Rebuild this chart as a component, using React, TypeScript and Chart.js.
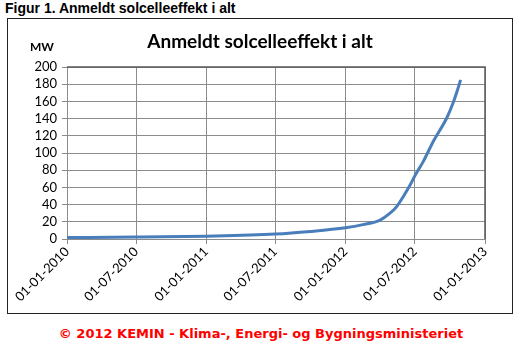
import React, { useEffect, useRef } from "react";
import { Chart, registerables } from "chart.js";

Chart.register(...registerables);

const pointDates = [
  "2010-01-01", "2010-07-01", "2011-01-01", "2011-07-01", "2011-10-01",
  "2012-01-01", "2012-02-16", "2012-04-01", "2012-04-27", "2012-05-15",
  "2012-06-01", "2012-06-19", "2012-07-03", "2012-07-23", "2012-08-19",
  "2012-09-23", "2012-10-10", "2012-10-20", "2012-10-29",
];
const pointValues = [1.7, 2.2, 3.3, 5.7, 8.7, 13, 16.7, 22, 30, 38, 49.5, 63, 75, 90, 114, 141, 159, 172, 185];
const tickDates = ["2010-01-01", "2010-07-01", "2011-01-01", "2011-07-01", "2012-01-01", "2012-07-01", "2013-01-01"];
const tickLabels = ["01-01-2010", "01-07-2010", "01-01-2011", "01-07-2011", "01-01-2012", "01-07-2012", "01-01-2013"];
const yTicks = [0, 20, 40, 60, 80, 100, 120, 140, 160, 180, 200];

const ORIGIN = Date.UTC(2010, 0, 1);
const toDay = (s: string) => (Date.parse(s + "T00:00:00Z") - ORIGIN) / 86400000;

const CW = 504;
const CH = 294;

const outline = {
  id: "outline",
  afterDatasetsDraw(chart: any) {
    const { ctx, chartArea } = chart;
    ctx.save();
    ctx.strokeStyle = "#5a5a5a";
    ctx.lineWidth = 1.5;
    ctx.beginPath();
    ctx.moveTo(chartArea.left, chartArea.top);
    ctx.lineTo(chartArea.right, chartArea.top);
    ctx.lineTo(chartArea.right, chartArea.bottom);
    ctx.stroke();
    ctx.restore();
  },
};

function ChartBox() {
  const ref = useRef<HTMLCanvasElement | null>(null);
  useEffect(() => {
    if (!ref.current) return;
    const chart = new Chart(ref.current, {
      type: "line",
      data: {
        datasets: [
          {
            data: pointDates.map((d, i) => ({ x: toDay(d), y: pointValues[i] })),
            borderColor: "#4a7ebb",
            borderWidth: 3,
            pointRadius: 0,
            cubicInterpolationMode: "monotone",
            fill: false,
          },
        ],
      },
      options: {
        responsive: false,
        animation: false,
        layout: { padding: { top: 48, right: 27, left: 0, bottom: 0 } },
        plugins: { legend: { display: false }, tooltip: { enabled: false }, title: { display: false } },
        scales: {
          x: {
            type: "linear",
            min: toDay(tickDates[0]),
            max: toDay(tickDates[tickDates.length - 1]),
            afterBuildTicks: (scale: any) => {
              scale.ticks = tickDates.map((d) => ({ value: toDay(d) }));
            },
            afterFit: (scale: any) => {
              scale.height = 74;
            },
            grid: { color: "#8c8c8c", tickLength: 5, lineWidth: 1 },
            border: { color: "#8c8c8c" },
            ticks: {
              autoSkip: false,
              minRotation: 45,
              maxRotation: 45,
              padding: 0,
              color: "#000",
              font: { family: "Lato", size: 13 },
              callback: (_v: any, i: number) => tickLabels[i],
            },
          },
          y: {
            min: 0,
            max: 200,
            afterBuildTicks: (scale: any) => {
              scale.ticks = yTicks.map((v) => ({ value: v }));
            },
            afterFit: (scale: any) => {
              scale.width = 59;
            },
            grid: { color: "#8c8c8c", tickLength: 5, lineWidth: 1 },
            border: { color: "#8c8c8c" },
            ticks: {
              autoSkip: false,
              padding: 5,
              color: "#000",
              font: { family: "Lato", size: 13 },
            },
          },
        },
      },
      plugins: [outline],
    } as any);
    return () => chart.destroy();
  }, []);
  return <canvas ref={ref} width={CW} height={CH} style={{ display: "block", width: CW, height: CH }} />;
}

export default function App() {
  return (
    <div style={{ position: "fixed", left: 0, top: 0, width: 522, height: 351, background: "#fff" }}>
      <div
        style={{
          position: "absolute",
          left: 5,
          top: 0,
          fontFamily: "'Liberation Sans', Arial, sans-serif",
          fontWeight: "bold",
          fontSize: 14,
          lineHeight: "16px",
          color: "#000",
          whiteSpace: "nowrap",
        }}
      >
        Figur 1. Anmeldt solcelleeffekt i alt
      </div>
      <div
        style={{
          position: "absolute",
          left: 7,
          top: 18,
          width: 504,
          height: 294,
          border: "1px solid #222",
        }}
      >
        <ChartBox />
        <div
          style={{
            position: "absolute",
            left: 0,
            top: 10,
            width: 504,
            textAlign: "center",
            fontFamily: "Lato, sans-serif",
            fontWeight: "bold",
            fontSize: 19,
            lineHeight: "24px",
            color: "#000",
            whiteSpace: "nowrap",
          }}
        >
          Anmeldt solcelleeffekt i alt
        </div>
        <div
          style={{
            position: "absolute",
            left: 22,
            top: 21,
            fontFamily: "Lato, sans-serif",
            fontWeight: "bold",
            fontSize: 12,
            lineHeight: "14px",
            color: "#000",
          }}
        >
          MW
        </div>
      </div>
      <div
        style={{
          position: "absolute",
          left: 0,
          top: 326,
          width: 522,
          textAlign: "center",
          fontFamily: "'DejaVu Sans', Verdana, sans-serif",
          fontWeight: "bold",
          fontSize: 13,
          lineHeight: "16px",
          color: "#ff0000",
          whiteSpace: "nowrap",
        }}
      >
        © 2012 KEMIN - Klima-, Energi- og Bygningsministeriet
      </div>
    </div>
  );
}
